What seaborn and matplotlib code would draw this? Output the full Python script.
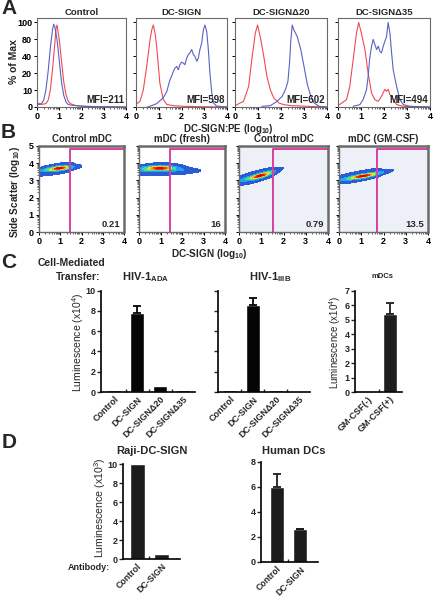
import numpy as np
import matplotlib
matplotlib.use('Agg')
import matplotlib.pyplot as plt
import seaborn as sns
from matplotlib.colors import LinearSegmentedColormap

sns.set_style('ticks')
plt.rcParams['font.family'] = ['Liberation Sans', 'DejaVu Sans']
plt.rcParams['font.weight'] = 'bold'
plt.rcParams['mathtext.default'] = 'regular'

# ---------------- DATA ----------------
# Panel A: flow histograms (% of max vs log10 fluorescence)
hist_titles = ['Control', 'DC-SIGN', 'DC-SIGN\u039420', 'DC-SIGN\u039435']
hist_mfi = [211, 598, 602, 494]

a1_red_x = [0, 0.2, 0.4, 0.5, 0.6, 0.7, 0.8, 0.85, 0.9, 0.95, 1.0, 1.1, 1.2, 1.3, 1.4, 1.5, 1.7, 2.0, 2.5, 3.0, 4.0]
a1_red_y = [5, 3, 4, 8, 20, 45, 75, 92, 97, 88, 80, 55, 30, 15, 7, 4, 2, 1, 0.5, 0.3, 0]
a1_blue_x = [0, 0.1, 0.2, 0.3, 0.4, 0.5, 0.6, 0.7, 0.75, 0.8, 0.9, 1.0, 1.1, 1.2, 1.3, 1.4, 1.6, 1.8, 2.0, 2.5, 3.0, 4.0]
a1_blue_y = [3, 3, 4, 8, 20, 42, 70, 92, 98, 95, 80, 55, 30, 14, 6, 3, 2, 1.5, 1, 0.5, 0.3, 0]

a2_red_x = [0.0, 0.18, 0.32, 0.47, 0.62, 0.69, 0.76, 0.84, 0.91, 1.05, 1.2, 1.35, 1.64, 2.08, 3.0, 4.0]
a2_red_y = [3, 7, 20, 48, 80, 91, 97, 87, 71, 28, 9, 3, 1.6, 0.8, 0.3, 0]
a2_blue_x = [0.5, 0.62, 0.91, 1.2, 1.35, 1.49, 1.56, 1.64, 1.71, 1.79, 1.86, 1.93, 2.0, 2.08, 2.15, 2.23, 2.3,
             2.37, 2.45, 2.52, 2.59, 2.67, 2.74, 2.81, 2.89, 2.96, 3.03, 3.11, 3.18, 3.25, 3.33, 3.4, 3.55, 4.0]
a2_blue_y = [0, 1, 4, 11, 18, 32, 36, 42, 46, 48, 44, 50, 53, 52, 50, 58, 62, 64, 68, 62, 60, 54, 58, 68, 76,
             91, 97, 89, 68, 40, 17, 5, 1, 0]

a3_red_x = [0.0, 0.37, 0.59, 0.73, 0.88, 0.98, 1.1, 1.25, 1.39, 1.54, 1.69, 1.91, 2.12, 2.42, 3.15, 4.0]
a3_red_y = [1.6, 6.7, 24, 56, 87, 97, 83, 60, 36, 20, 10.6, 4.7, 2.8, 1.6, 0.8, 0]
a3_blue_x = [1.17, 1.54, 1.83, 2.05, 2.2, 2.3, 2.37, 2.43, 2.49, 2.56, 2.64, 2.71, 2.86, 3.0, 3.15, 3.3, 3.44, 3.66, 4.0]
a3_blue_y = [0.8, 1.6, 6.7, 12.6, 21, 30, 52, 80, 97, 91, 87, 83, 68, 48, 26, 12.6, 4.7, 0.8, 0]

a4_red_x = [0.0, 0.37, 0.51, 0.66, 0.8, 0.9, 1.02, 1.17, 1.31, 1.46, 1.6, 1.75, 1.89, 2.04, 2.11, 2.18, 2.26,
            2.4, 2.55, 2.84, 4.0]
a4_red_y = [1.6, 8.7, 24, 56, 87, 100, 87, 68, 40, 16.5, 8.7, 6.7, 12.6, 21, 18.5, 21, 14.6, 8.7, 2.8, 0.8, 0]
a4_blue_x = [0.66, 0.95, 1.09, 1.24, 1.31, 1.38, 1.46, 1.53, 1.6, 1.68, 1.75, 1.82, 1.89, 1.97, 2.04, 2.11,
             2.18, 2.26, 2.33, 2.4, 2.55, 2.69, 2.84, 3.13, 4.0]
a4_blue_y = [0.8, 2.8, 8.7, 20.5, 36, 58, 72, 80, 74, 68, 72, 66, 64, 72, 78, 83, 100, 87, 64, 44, 24, 8.7,
             2.8, 0.8, 0]

hist_red_x = [a1_red_x, a2_red_x, a3_red_x, a4_red_x]
hist_red_y = [a1_red_y, a2_red_y, a3_red_y, a4_red_y]
hist_blue_x = [a1_blue_x, a2_blue_x, a3_blue_x, a4_blue_x]
hist_blue_y = [a1_blue_y, a2_blue_y, a3_blue_y, a4_blue_y]
hist_ytick_labels = ['0', '10', '20', '40', '80', '100']

# Panel B: density plots (anchor points of the cell cloud with weights)
dens_titles = ['Control mDC', 'mDC (fresh)', 'Control mDC', 'mDC (GM-CSF)']
dens_pct = ['0.21', '16', '0.79', '13.5']
gate_x = [1.45, 1.45, 1.55, 1.7]
gate_top = 4.85

b1_x = [0.05, 0.3, 0.55, 0.8, 0.95, 1.05, 1.2, 1.35, 0.3, 0.7, 1.1, 0.4, 0.8, 1.2, 1.6]
b1_y = [3.55, 3.58, 3.62, 3.68, 3.72, 3.72, 3.72, 3.7, 3.38, 3.45, 3.52, 3.75, 3.85, 3.92, 3.75]
b1_w = [1, 1.5, 2, 3, 4, 4, 2.5, 1, 0.6, 0.8, 0.6, 0.6, 0.8, 0.6, 0.3]

b2_x = [0.05, 0.3, 0.55, 0.8, 0.95, 1.05, 1.25, 1.5, 1.8, 2.1, 2.4, 0.3, 0.8, 1.3, 1.8, 0.5, 1.0, 1.5]
b2_y = [3.6, 3.62, 3.66, 3.7, 3.72, 3.72, 3.7, 3.66, 3.62, 3.58, 3.55, 3.42, 3.45, 3.45, 3.45, 3.8, 3.9, 3.85]
b2_w = [1, 1.5, 2, 3, 4, 4, 2.5, 1.5, 1, 0.6, 0.3, 0.6, 0.8, 0.6, 0.4, 0.6, 0.8, 0.5]

b3_x = [0.1, 0.35, 0.6, 0.8, 0.95, 1.05, 1.25, 1.45, 0.4, 0.8, 1.2, 0.3, 0.7, 1.1]
b3_y = [3.0, 3.08, 3.16, 3.22, 3.27, 3.3, 3.4, 3.55, 2.9, 3.02, 3.2, 3.25, 3.4, 3.55]
b3_w = [1, 1.5, 2, 3, 4, 4, 2.5, 1, 0.6, 0.8, 0.6, 0.6, 0.8, 0.6]

b4_x = [0.2, 0.45, 0.7, 0.9, 1.05, 1.2, 1.4, 1.65, 1.9, 0.5, 0.9, 1.4, 0.4, 0.9, 1.4]
b4_y = [3.05, 3.12, 3.18, 3.22, 3.25, 3.28, 3.33, 3.4, 3.48, 2.95, 3.05, 3.18, 3.3, 3.42, 3.55]
b4_w = [1, 1.5, 2, 3, 4, 4, 2.5, 1.5, 0.7, 0.6, 0.8, 0.6, 0.6, 0.8, 0.6]

dens_x = [b1_x, b2_x, b3_x, b4_x]
dens_y = [b1_y, b2_y, b3_y, b4_y]
dens_w = [b1_w, b2_w, b3_w, b4_w]

# Panel C: cell-mediated transfer (luminescence x10^4)
c_cats = ['Control', 'DC-SIGN', 'DC-SIGN\u039420', 'DC-SIGN\u039435']
ada_vals = [0.15, 7.8, 0.6, 0.15]
ada_err = [0, 0.65, 0, 0]
iiib_vals = [0.2, 8.6, 0.2, 0.1]
iiib_err = [0, 0.7, 0, 0]
mdc_cats = ['GM-CSF(-)', 'GM-CSF(+)']
mdc_vals = [0.1, 5.4]
mdc_err = [0, 0.75]

# Panel D: antibody blocking
d_cats = ['Control', 'DC-SIGN']
raji_vals = [10.0, 0.6]
raji_err = [0, 0]
hdc_vals = [6.0, 2.6]
hdc_err = [1.05, 0.05]

# ---------------- LAYOUT ----------------
W, H = 433, 596
fig = plt.figure(figsize=(W / 100, H / 100), dpi=100)


def add_ax(x0, y0, x1, y1):
    return fig.add_axes([x0 / W, 1 - y1 / H, (x1 - x0) / W, (y1 - y0) / H])


def ftext(x, y, s, **kw):
    kw.setdefault('ha', 'center')
    kw.setdefault('va', 'center')
    fig.text(x / W, 1 - y / H, s, **kw)


red_c = '#f04a55'
blue_c = '#5a62c4'
frame_c = '#6a6a6a'
minor_pos = [d + np.log10(k) for d in range(4) for k in range(2, 10)]

# ---- Panel A ----
a_boxes = [(37, 18, 126, 107), (136, 18, 227, 107), (235, 18, 327, 107), (338, 18, 430, 107)]
for i, box in enumerate(a_boxes):
    ax = add_ax(*box)
    sns.lineplot(x=hist_red_x[i], y=hist_red_y[i], ax=ax, color=red_c, lw=0.8, sort=False, estimator=None)
    sns.lineplot(x=hist_blue_x[i], y=hist_blue_y[i], ax=ax, color=blue_c, lw=0.8, sort=False, estimator=None)
    ax.set_xlim(0, 4)
    ax.set_ylim(0, 105.3)
    ax.set_xticks(range(5))
    ax.set_xticks(minor_pos, minor=True)
    ax.set_yticks([0, 20, 40, 60, 80, 100])
    ax.set_yticklabels(hist_ytick_labels if i == 0 else [])
    ax.tick_params(labelsize=6.5, length=2.5, width=0.7, pad=1.0, colors='black')
    ax.tick_params(which='minor', length=1.3, width=0.5)
    for lab in ax.get_xticklabels() + ax.get_yticklabels():
        lab.set_fontweight('bold')
    for s in ax.spines.values():
        s.set_color(frame_c)
        s.set_linewidth(0.8)
    ax.text(0.98, 0.02, f'MFI={hist_mfi[i]}', transform=ax.transAxes, ha='right', va='bottom',
            fontsize=7, fontweight='bold')
    ftext((box[0] + box[2]) / 2, 12.5, hist_titles[i], fontsize=6.8, fontweight='bold')

ftext(9, 8, 'A', fontsize=15, fontweight='bold')
ftext(14, 62, '% of Max', rotation=90, fontsize=7.5, fontweight='bold')
ftext(228, 128.5, 'DC-SIGN:PE (log$_{10}$)', fontsize=7, fontweight='bold')

# ---- Panel B ----
flow_cmap = LinearSegmentedColormap.from_list(
    'flow', ['#2a44c0', '#2f6ee8', '#18b6f0', '#30d8a8', '#8ee050', '#e8e820', '#ffa010', '#f03010', '#d00000'])
b_boxes = [(39, 146, 124, 232), (139, 146, 225, 232), (239, 146, 328, 232), (339, 146, 428, 232)]
b_bg = ['white', 'white', '#eef0f8', '#eef0f8']
dens_levels = [0.02, 0.25, 0.45, 0.62, 0.76, 0.86, 0.93, 0.97, 0.99, 1.0]
for i, box in enumerate(b_boxes):
    ax = add_ax(*box)
    ax.set_facecolor(b_bg[i])
    sns.kdeplot(x=dens_x[i], y=dens_y[i], weights=dens_w[i], fill=True, levels=dens_levels,
                cmap=flow_cmap, bw_adjust=1.15, ax=ax)
    ax.plot([gate_x[i], gate_x[i], 4], [0, gate_top, gate_top], color='#d8409e', lw=1.4, clip_on=False)
    ax.set_xlim(0, 4)
    ax.set_ylim(0, 5)
    ax.set_xlabel('')
    ax.set_ylabel('')
    ax.set_xticks(range(5))
    ax.set_yticks(range(6))
    ax.set_xticks(minor_pos, minor=True)
    ax.set_yticks([d + np.log10(k) for d in range(5) for k in range(2, 10)], minor=True)
    if i > 0:
        ax.set_yticklabels([])
    ax.tick_params(labelsize=6.5, length=2.5, width=0.7, pad=1.2, colors='black')
    ax.tick_params(which='minor', length=1.2, width=0.5)
    for lab in ax.get_xticklabels() + ax.get_yticklabels():
        lab.set_fontweight('bold')
    for s in ax.spines.values():
        s.set_color(frame_c)
        s.set_linewidth(1.0)
    ax.spines['top'].set_linewidth(1.8)
    ax.spines['right'].set_linewidth(1.8)
    ax.text(0.96, 0.03, dens_pct[i], transform=ax.transAxes, ha='right', va='bottom',
            fontsize=6.8, fontweight='bold')
    ftext((box[0] + box[2]) / 2, 139, dens_titles[i], fontsize=7, fontweight='bold')

ftext(8, 133, 'B', fontsize=15, fontweight='bold')
ftext(15, 192, 'Side Scatter (log$_{10}$)', rotation=90, fontsize=7.2, fontweight='bold')
ftext(209, 254, 'DC-SIGN (log$_{10}$)', fontsize=7.2, fontweight='bold')


# ---- bar helper ----
def bar_panel(box, cats, vals, errs, ymax, yticks, ylabels, color, x0, x1, xfs=6.5):
    ax = add_ax(*box)
    sns.barplot(x=cats, y=vals, ax=ax, color=color, width=0.6, errorbar=None, saturation=1)
    idx = [k for k, e in enumerate(errs) if e > 0]
    if idx:
        ax.errorbar([k for k in idx], [vals[k] for k in idx],
                    yerr=[[0] * len(idx), [errs[k] for k in idx]],
                    fmt='none', ecolor=color, elinewidth=1.3, capsize=3, capthick=1.3)
    ax.set_xlim(x0, x1)
    ax.set_ylim(0, ymax)
    ax.set_yticks(yticks)
    if not ylabels:
        ax.set_yticklabels([])
    ax.set_xticks(range(len(cats)))
    ax.set_xticklabels(cats, rotation=45, ha='right', rotation_mode='anchor')
    ax.set_xticks([k + 0.5 for k in range(len(cats) - 1)], minor=True)
    ax.tick_params(axis='x', which='major', length=0, pad=2, labelsize=xfs)
    ax.tick_params(axis='x', which='minor', length=2, direction='in', width=1)
    ax.tick_params(axis='y', length=3, width=1, pad=1, labelsize=6.5)
    for lab in ax.get_xticklabels() + ax.get_yticklabels():
        lab.set_fontweight('bold')
    sns.despine(ax=ax)
    for s in ('left', 'bottom'):
        ax.spines[s].set_linewidth(1.2)
        ax.spines[s].set_color('black')
    ax.set_xlabel('')
    ax.set_ylabel('')
    return ax


# ---- Panel C ----
bar_panel((101, 290.7, 195, 392), c_cats, ada_vals, ada_err, 10, [0, 2, 4, 6, 8, 10], True, '#050505', -0.565, 3.52)
bar_panel((218, 290.7, 310, 392), c_cats, iiib_vals, iiib_err, 10, [0, 2, 4, 6, 8, 10], False, '#050505', -0.52, 3.48)
bar_panel((355, 290.7, 402, 392), mdc_cats, mdc_vals, mdc_err, 7, list(range(8)), True, '#1e1e1e', -0.59, 1.55)

ftext(9, 263, 'C', fontsize=15, fontweight='bold')
ftext(38, 263, 'Cell-Mediated', ha='left', fontsize=7.5, fontweight='bold')
ftext(100, 277, 'Transfer:', ha='right', fontsize=7.5, fontweight='bold')
ftext(146, 277, 'HIV-1$_{ADA}$', fontsize=8, fontweight='bold')
ftext(270, 277, 'HIV-1$_{IIIB}$', fontsize=8, fontweight='bold')
ftext(382, 277, 'mDCs', fontsize=5.5, fontweight='bold')
ftext(78, 342, 'Luminescence (x10$^{4}$)', rotation=90, fontsize=7.5, fontweight='normal')
ftext(335, 342, 'Luminescence (x10$^{4}$)', rotation=90, fontsize=7, fontweight='normal')

# ---- Panel D ----
bar_panel((123, 464.3, 180, 559.3), d_cats, raji_vals, raji_err, 10, [0, 2, 4, 6, 8, 10], True, '#1c1c1c',
          -0.6, 1.77, xfs=6.3)
bar_panel((261, 461.7, 318, 561.7), d_cats, hdc_vals, hdc_err, 8, [0, 2, 4, 6, 8], True, '#1c1c1c',
          -0.67, 1.77, xfs=6.2)

ftext(9, 442, 'D', fontsize=15, fontweight='bold')
ftext(152, 451, 'Raji-DC-SIGN', fontsize=8, fontweight='bold')
ftext(294, 451, 'Human DCs', fontsize=8, fontweight='bold')
ftext(100, 508, 'Luminescence (x10$^{3}$)', rotation=90, fontsize=7.6, fontweight='normal')
ftext(110, 568, 'Antibody:', ha='right', fontsize=6.5, fontweight='bold')

fig.savefig('out.png', dpi=100)
